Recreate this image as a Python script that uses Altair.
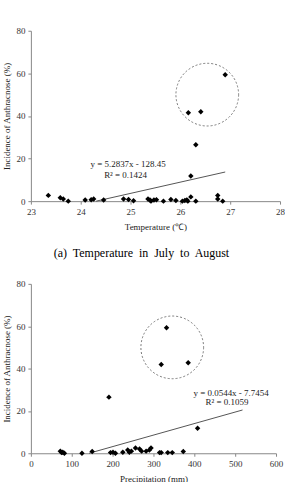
import altair as alt
import pandas as pd

# ---- data ----
temp = [23.35, 23.59, 23.65, 23.75, 24.09, 24.21, 24.26, 24.46, 24.86, 24.96, 25.06,
        25.35, 25.39, 25.41, 25.47, 25.52, 25.66, 25.81, 25.91, 26.04, 26.09, 26.13,
        26.15, 26.21, 26.21, 26.31, 26.31, 26.16, 26.41, 26.75, 26.75, 26.85, 26.9]
inc_t = [2.7, 1.6, 1.0, 0.0, 0.5, 0.7, 1.0, 0.5, 1.0, 0.8, 0.2,
         1.0, 0.5, 0.0, 0.5, 0.7, 0.0, 0.8, 0.3, 0.0, 0.3, 0.6,
         0.0, 2.0, 11.8, 26.5, 0.0, 41.5, 42.0, 2.7, 1.0, 0.0, 59.3]

precip = [72, 75, 78, 82, 125, 150, 191, 195, 201, 207, 225, 237, 241, 246, 256,
          266, 271, 282, 290, 294, 315, 319, 335, 346, 373, 408, 319, 332, 385]
inc_p = [1.0, 0.3, 0.5, 0.0, 0.0, 0.8, 26.5, 0.3, 0.5, 0.0, 0.5, 1.5, 0.5, 1.0, 2.5,
         2.0, 1.0, 1.0, 1.5, 2.5, 0.3, 0.3, 0.3, 0.3, 0.8, 11.8, 41.9, 59.3, 42.7]

# trend lines (Excel linear fits shown in the figure)
slope_t, icpt_t = 5.2837, -128.45
trend_tx = [24.31, 26.9]
slope_p, icpt_p = 0.0544, -7.7454
trend_px = [142.4, 518.0]

eq_t = ["y = 5.2837x  - 128.45", "R² = 0.1424"]
eq_t_x = [24.95, 24.9]
eq_t_y = [17.5, 12.2]
eq_p = ["y = 0.0544x  - 7.7454", "R² = 0.1059"]
eq_p_x = [490, 480]
eq_p_y = [28.6, 24.3]

circle_t = {"x": [26.54], "y": [50.0]}
circle_p = {"x": [346.0], "y": [50.0]}

caption = "(a)\u00a0 Temperature\u00a0 in\u00a0 July\u00a0 to\u00a0 August"
y_title = "Incidence of Anthracnose (%)"

SERIF = "Liberation Serif"

# ---- tables ----
df_t = pd.DataFrame({"x": temp, "y": inc_t})
df_p = pd.DataFrame({"x": precip, "y": inc_p})
tr_t = pd.DataFrame({"x": trend_tx, "y": [slope_t * v + icpt_t for v in trend_tx]})
tr_p = pd.DataFrame({"x": trend_px, "y": [slope_p * v + icpt_p for v in trend_px]})
tx_t = pd.DataFrame({"x": eq_t_x, "y": eq_t_y, "t": eq_t})
tx_p = pd.DataFrame({"x": eq_p_x, "y": eq_p_y, "t": eq_p})
ci_t = pd.DataFrame(circle_t)
ci_p = pd.DataFrame(circle_p)


def panel(df, tr, tx, ci, xdom, xvals, xtitle, w, h):
    xs = alt.Scale(domain=xdom, nice=False, zero=False)
    ys = alt.Scale(domain=[0, 80], nice=False)
    xax = alt.Axis(values=xvals, title=xtitle, titlePadding=6)
    yax = alt.Axis(values=[0, 20, 40, 60, 80], title=y_title, titlePadding=4)
    circ = alt.Chart(ci).mark_point(
        shape="circle", filled=False, size=3959, stroke="#777777",
        strokeWidth=1, strokeDash=[2, 2], opacity=1
    ).encode(x=alt.X("x:Q", scale=xs, axis=xax), y=alt.Y("y:Q", scale=ys, axis=yax))
    line = alt.Chart(tr).mark_line(color="#555555", strokeWidth=1).encode(
        x=alt.X("x:Q", scale=xs), y=alt.Y("y:Q", scale=ys))
    pts = alt.Chart(df).mark_point(
        shape="diamond", filled=True, size=30, color="black", opacity=1
    ).encode(x=alt.X("x:Q", scale=xs), y=alt.Y("y:Q", scale=ys))
    txt = alt.Chart(tx).mark_text(font=SERIF, fontSize=9, color="#222222").encode(
        x=alt.X("x:Q", scale=xs), y=alt.Y("y:Q", scale=ys), text="t:N")
    return alt.layer(circ, line, pts, txt).properties(width=w, height=h)


top = panel(df_t, tr_t, tx_t, ci_t, [23, 28], [23, 24, 25, 26, 27, 28],
            "Temperature (\u2103)", 250, 171).properties(
    title=alt.TitleParams(caption, orient="bottom", font=SERIF, fontSize=12,
                          fontWeight="normal", color="black", offset=17, dx=-14))
bottom = panel(df_p, tr_p, tx_p, ci_p, [0, 600], [0, 100, 200, 300, 400, 500, 600],
               "Precipitation (mm)", 246, 170)

chart = alt.vconcat(top, bottom, spacing=21).properties(
    padding={"left": 3, "top": 26, "right": 0, "bottom": 0}
).configure_view(stroke=None).configure_axis(
    grid=False, domainColor="#888888", tickColor="#888888", tickSize=3,
    labelFont=SERIF, labelFontSize=9, labelColor="#333333", labelPadding=3,
    titleFont=SERIF, titleFontSize=9, titleFontWeight="normal", titleColor="#222222"
).configure_axisX(labelFlush=False)

chart.save("out.html", embed_options={"renderer": "svg", "actions": False})
